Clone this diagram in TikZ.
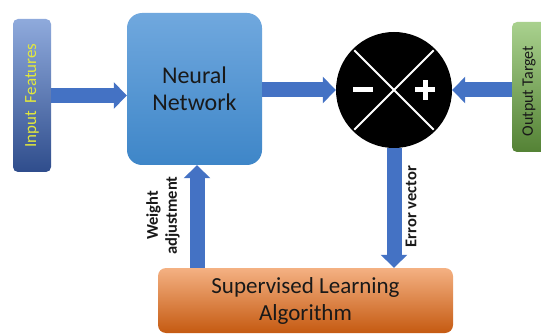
\documentclass[tikz,border=0pt]{standalone}
\usepackage{fontspec}
\setmainfont{Carlito}
\usetikzlibrary{arrows.meta,calc}
\definecolor{arrowblue}{RGB}{68,114,196}
\definecolor{inptop}{RGB}{143,170,220}
\definecolor{inpbot}{RGB}{47,77,140}
\definecolor{nntop}{RGB}{112,168,222}
\definecolor{nnbot}{RGB}{62,134,200}
\definecolor{gtop}{RGB}{169,209,142}
\definecolor{gbot}{RGB}{84,130,53}
\definecolor{otop}{RGB}{244,177,131}
\definecolor{obot}{RGB}{197,90,17}
\definecolor{yel}{RGB}{226,232,60}
\definecolor{txt}{RGB}{25,25,25}
\tikzset{
  blockarrow/.style={draw=arrowblue, line width=15pt,
    -{Triangle[width=26pt,length=13pt,fill=arrowblue]}},
  sidebox/.style={rectangle, rounded corners=5pt, inner sep=0pt},
  lbl/.style={font=\bfseries\fontsize{16.5}{19}\selectfont, text=txt, align=center, rotate=90}
}
\begin{document}
\begin{tikzpicture}[x=1pt,y=-1pt]
\useasboundingbox (0,0) rectangle (541,334);
% boxes
\node[sidebox, minimum width=38pt, minimum height=153pt, top color=inptop, bottom color=inpbot] (inp) at (32,95.5) {};
\node[text=yel, font=\fontsize{17}{19}\selectfont, rotate=90] (inpt) at (inp.center) {Input\ \ Features};
\node[rectangle, rounded corners=15pt, minimum width=135pt, minimum height=152pt,
  top color=nntop, bottom color=nnbot, text=txt, align=center,
  font=\fontsize{24}{27}\selectfont] (nn) at (194.5,89) {Neural\\Network};
\node[circle, fill=black, minimum size=116pt, inner sep=0pt] (circ) at (394,90) {};
\node[sidebox, minimum width=38pt, minimum height=130pt, top color=gtop, bottom color=gbot] (out) at (531,87) {};
\node[text=txt, font=\fontsize{16}{18}\selectfont, rotate=90] (outt) at (529,91) {Output Target};
\node[rectangle, rounded corners=8pt, minimum width=295pt, minimum height=65pt,
  top color=otop, bottom color=obot, text=txt, align=center,
  font=\fontsize{23}{27}\selectfont] (sup) at (305.5,300.5) {Supervised Learning\\Algorithm};
% circle contents
\draw[white, line width=2pt, shorten <=2pt, shorten >=2pt] (circ.45) -- (circ.225);
\draw[white, line width=2pt, shorten <=2pt, shorten >=2pt] (circ.135) -- (circ.-45);
\fill[white] ($(circ.center)+(-41,-2.5)$) rectangle ($(circ.center)+(-21,2.5)$);
\fill[white] ($(circ.center)+(21,-2.5)$) rectangle ($(circ.center)+(41,2.5)$);
\fill[white] ($(circ.center)+(28.5,-10)$) rectangle ($(circ.center)+(33.5,10)$);
% arrows
\draw[blockarrow] (inp.east) -- (nn.west |- inp.east);
\draw[blockarrow] (nn.east |- circ.west) -- (circ.west);
\draw[blockarrow] (out.west |- circ.east) -- (circ.east);
\draw[blockarrow] (circ.south) -- (circ.south |- sup.north);
\coordinate (wa) at ([xshift=2.5pt]nn.south);
\draw[blockarrow] (wa |- sup.north) -- (wa);
% labels
\node[lbl] (ev) at (411,206.5) {Error vector};
\node[lbl] (wl) at (163,215.5) {Weight\\adjustment};
\end{tikzpicture}
\end{document}
